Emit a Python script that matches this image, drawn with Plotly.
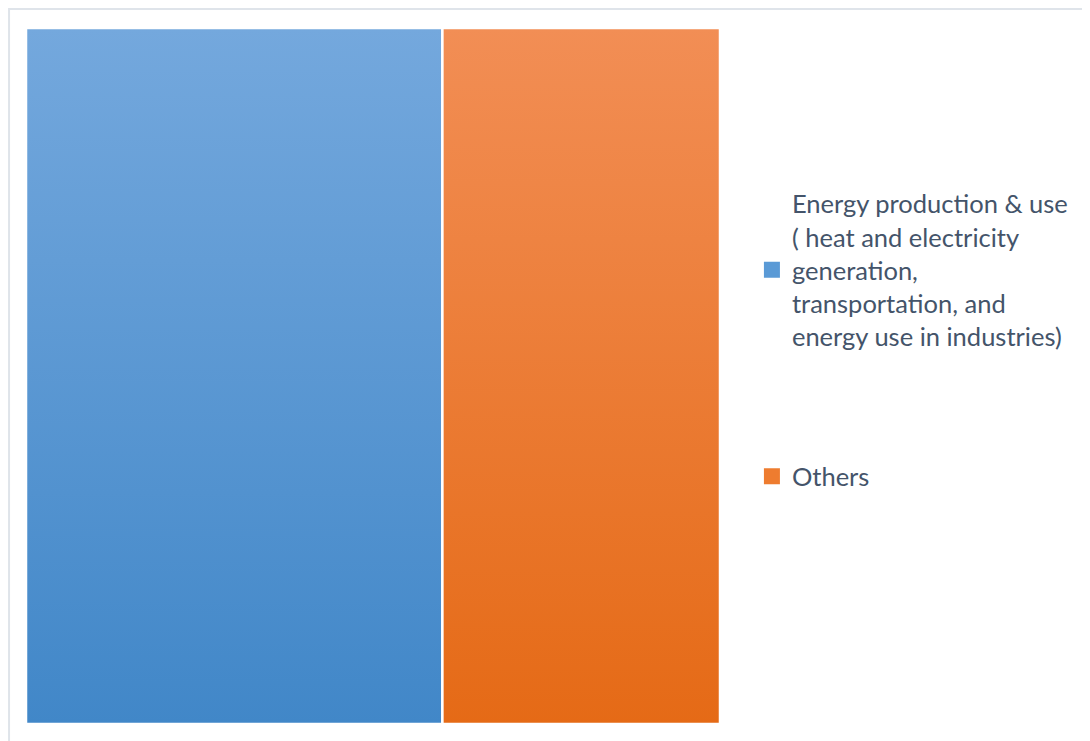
import plotly.graph_objects as go

categories = ["Energy production & use<br>( heat and electricity<br>generation,<br>transportation, and<br>energy use in industries)", "Others"]
shares = [60, 40]
top_colors = ["#74a8dd", "#f28e55"]
bottom_colors = ["#4187c8", "#e56a16"]
mid_colors = ["#5a9ad6", "#ee7c2f"]

fig = go.Figure()
start = 0
for name, val, ct, cb in zip(categories, shares, top_colors, bottom_colors):
    x0, x1 = start, start + val
    fig.add_trace(go.Scatter(
        x=[x0, x1, x1, x0, x0], y=[0, 0, 1, 1, 0],
        mode="lines", fill="toself",
        line=dict(color="white", width=2.5),
        fillgradient=dict(type="vertical", colorscale=[[0, cb], [1, ct]]),
        showlegend=False, hoverinfo="skip",
    ))
    start = x1

for i, (name, cm) in enumerate(zip(categories, mid_colors)):
    fig.add_trace(go.Scatter(
        x=[None], y=[None], mode="markers", name=name,
        legendgroup=f"g{i}",
        marker=dict(symbol="square", size=19, color=cm),
    ))

fig.update_layout(
    width=1082, height=733,
    margin=dict(l=18, r=370, t=20, b=17),
    paper_bgcolor="white", plot_bgcolor="white",
    xaxis=dict(range=[0, 100], visible=False, fixedrange=True),
    yaxis=dict(range=[0, 1], visible=False, fixedrange=True),
    showlegend=True,
    legend=dict(
        x=1.046, xanchor="left", y=0.781, yanchor="top",
        font=dict(family="Lato, Open Sans, sans-serif", size=25.5, color="#44546a"),
        tracegroupgap=104, itemwidth=30, valign="middle",
        bgcolor="rgba(0,0,0,0)",
    ),
    shapes=[dict(
        type="rect", xref="paper", yref="paper",
        x0=(1 - 18) / 696, x1=1.6, y0=-0.2, y1=1 + (20 - 1) / 696,
        line=dict(color="#dfe4ea", width=2), fillcolor="rgba(0,0,0,0)", layer="below",
    )],
)

fig.write_html("out.html")
